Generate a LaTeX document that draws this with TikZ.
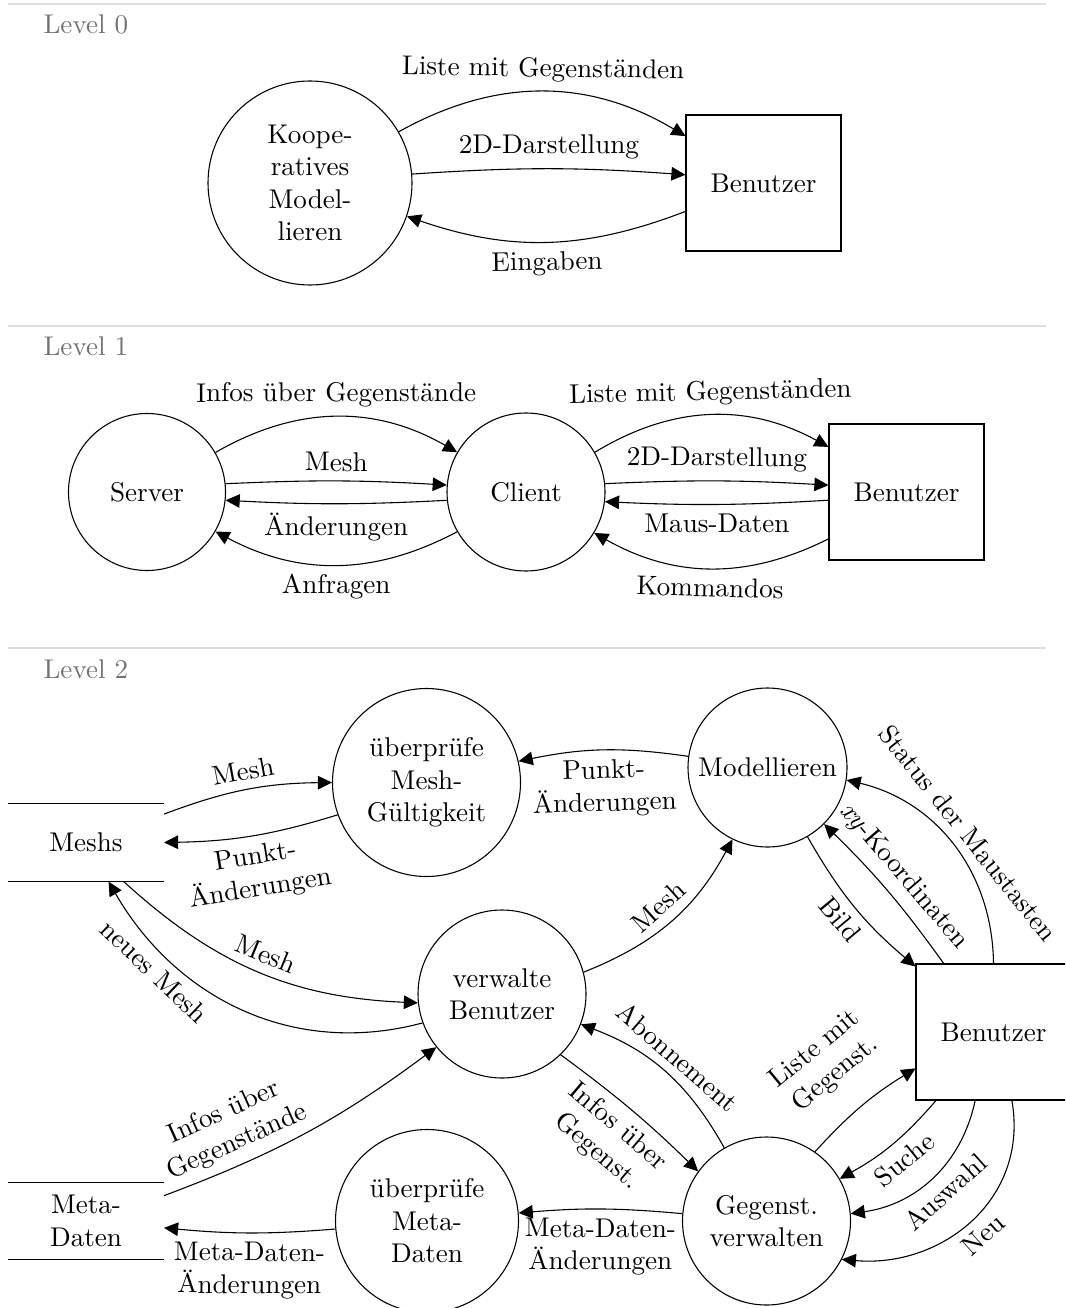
\documentclass[tikz,border=0pt]{standalone}
\usetikzlibrary{arrows.meta}

\begin{document}
\begin{tikzpicture}[x=0.369pt,y=-0.369pt,
  flow/.style={-{Triangle[length=5.2pt,width=5pt]}},
  proc/.style={circle,draw,align=center,inner sep=0pt,minimum size=#1*0.369pt},
  ext/.style={draw,align=center,minimum width=155*0.369pt,minimum height=136*0.369pt},
  store/.style={align=center,inner sep=0pt,minimum width=155*0.369pt,minimum height=#1*0.369pt},
  lbl/.style={sloped,align=center},
  levelrule/.style={draw=black!13,line width=0.5pt},
  leveltag/.style={anchor=base west,text=black!55,inner sep=0pt},
]
\useasboundingbox (0,0) rectangle (1065,1308);
\clip (0,0) rectangle (1065,1308);

% ---------------- Level 0 ----------------
\path[levelrule] (8,4) -- (1046,4);
\node[leveltag] (tag0) at (43,34) {Level 0};
\node[proc=204] (koop) at (310,183) {Koope-\\ratives\\Model-\\lieren};
\node[ext] (user0) at (763.5,183) {Benutzer};
\draw[flow] (koop.30) to[bend left=30] node[lbl,above] {Liste mit Gegenständen} (user0.149);
\draw[flow] (koop.5) to[bend left=4] node[lbl,above] {2D-Darstellung} (user0.174);
\draw[flow] (user0.200) to[bend left=20] node[lbl,below] {Eingaben} (koop.-19);

% ---------------- Level 1 ----------------
\path[levelrule] (8,326) -- (1046,326);
\node[leveltag] (tag1) at (43,356) {Level 1};
\node[proc=157] (server) at (147,492) {Server};
\node[proc=158] (client) at (526,492) {Client};
\node[ext] (user1) at (906.5,492) {Benutzer};
\draw[flow] (server.30) to[bend left=30] node[lbl,above] {Infos über Gegenstände} (client.150);
\draw[flow] (server.6) to[bend left=3] node[lbl,above] {Mesh} (client.175);
\draw[flow] (client.186) to[bend left=3] node[lbl,below] {Änderungen} (server.-6);
\draw[flow] (client.210) to[bend left=28] node[lbl,below] {Anfragen} (server.-30);
\draw[flow] (client.30) to[bend left=30] node[lbl,above] {Liste mit Gegenständen} (user1.150);
\draw[flow] (client.6) to[bend left=3] node[lbl,above] {2D-Darstellung} (user1.175);
\draw[flow] (user1.186) to[bend left=3] node[lbl,below] {Maus-Daten} (client.-7);
\draw[flow] (user1.211) to[bend left=28] node[lbl,below] {Kommandos} (client.-31);

% ---------------- Level 2 ----------------
\path[levelrule] (8,648) -- (1046,648);
\node[leveltag] (tag2) at (43,678) {Level 2};
\node[store=77] (meshs) at (86,842.5) {Meshs};
\draw (meshs.north west) -- (meshs.north east) (meshs.south west) -- (meshs.south east);
\node[store=76] (meta) at (86,1221) {Meta-\\Daten};
\draw (meta.north west) -- (meta.north east) (meta.south west) -- (meta.south east);
\node[proc=188] (chkmesh) at (426.5,782.5) {überprüfe\\Mesh-\\Gültigkeit};
\node[proc=159] (model) at (767.5,767.5) {Modellieren};
\node[proc=168] (admin) at (502,994) {verwalte\\Benutzer};
\node[ext] (user2) at (993.5,1032) {Benutzer};
\node[proc=168] (items) at (766.5,1221) {Gegenst.\\verwalten};
\node[proc=183] (chkmeta) at (427,1221) {überprüfe\\Meta-\\Daten};

\draw[flow] (meshs.20) to[bend left=10] node[lbl,above] {Mesh} (chkmesh.180);
\draw[flow] (chkmesh.200) to[bend left=8] node[lbl,below] {Punkt-\\Änderungen} (meshs.east);
\draw[flow] (model.172) to[bend right=10] node[lbl,below] {Punkt-\\Änderungen} (chkmesh.13);
\draw[flow] (meshs.-46) to[bend right=20] node[lbl,above] {Mesh} (admin.186);
\draw[flow] (admin.200) to[out=195,in=-60] node[lbl,below,pos=0.75] {neues Mesh} (meshs.-60);
\draw[flow] (admin.15) to[bend right=20] node[lbl,above] {Mesh} (model.244);
\draw[flow] (model.-60) to[bend right=10] node[lbl,below] {Bild} (user2.140);
\draw[flow] (user2.126) to[bend right=5] node[lbl,above] {\textit{xy}-Koordinaten} (model.-45);
\draw[flow] (user2.north) to[bend right=38] node[lbl,above] {Status der Maustasten} (model.-9);
\draw[flow] (meta.18) to[bend right=8] node[lbl,above,pos=0.27] {Infos über\\Gegenstände} (admin.219);
\draw[flow] (chkmeta.185) to[bend left=5] node[lbl,below] {Meta-Daten-\\Änderungen} (meta.-5);
\draw[flow] (items.175) to[bend right=5] node[lbl,below] {Meta-Daten-\\Änderungen} (chkmeta.5);
\draw[flow] (admin.-46) to[bend left=4] node[lbl,below] {Infos über\\Gegenst.} (items.144);
\draw[flow] (items.120) to[bend right=20] node[lbl,above] {Abonnement} (admin.-21);
\draw[flow] (items.55) to[bend left=8] node[lbl,above=7pt] {Liste mit\\Gegenst.} (user2.205);
\draw[flow] (user2.230) to[bend left=10] node[lbl,below] {Suche} (items.30);
\draw[flow] (user2.255) to[out=258,in=8] node[lbl,below] {Auswahl} (items.5);
\draw[flow] (user2.285) to[out=-80,in=-5,looseness=1.1] node[lbl,below] {Neu} (items.-27);
\end{tikzpicture}
\end{document}
